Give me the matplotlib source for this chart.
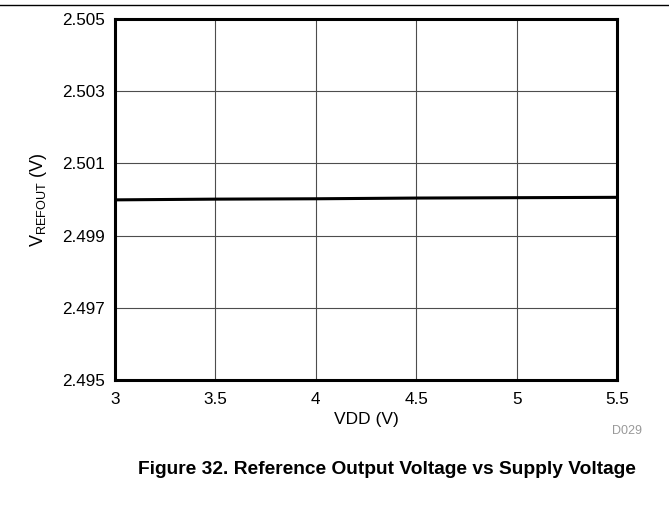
import numpy as np
import matplotlib.pyplot as plt
from matplotlib.lines import Line2D

plt.rcParams['font.family'] = ['Liberation Sans', 'DejaVu Sans']
plt.rcParams['mathtext.fontset'] = 'custom'
plt.rcParams['mathtext.rm'] = 'Liberation Sans'

vdd = [3.0, 3.5, 4.0, 4.5, 5.0, 5.5]
vrefout = [2.49999, 2.50001, 2.50002, 2.50004, 2.50005, 2.50006]
yticks = [2.495, 2.497, 2.499, 2.501, 2.503, 2.505]
xticks = [3, 3.5, 4, 4.5, 5, 5.5]

fig = plt.figure(figsize=(6.69, 5.14), dpi=100)
ax = fig.add_axes([115/669, 1 - 380/514, 502/669, 361/514])

ax.plot(vdd, vrefout, color='black', linewidth=2.2)
ax.set_xlim(3, 5.5)
ax.set_ylim(2.495, 2.505)
ax.set_xticks(xticks)
ax.set_xticklabels(['3', '3.5', '4', '4.5', '5', '5.5'])
ax.set_yticks(yticks)
ax.set_yticklabels(['%.3f' % v for v in yticks])
ax.tick_params(length=0, labelsize=12.3)
ax.tick_params(axis='x', pad=9)
ax.tick_params(axis='y', pad=7)
ax.grid(True, color='#4d4d4d', linewidth=0.8)
for s in ax.spines.values():
    s.set_linewidth(2.2)
ax.set_xlabel('VDD (V)', fontsize=12.5, labelpad=3)
ax.set_ylabel(r'V$_{\mathrm{REFOUT}}$ (V)', fontsize=13, labelpad=10)

fig.add_artist(Line2D([0, 1], [1 - 5/514, 1 - 5/514], color='black', linewidth=1, transform=fig.transFigure))
fig.text(627/669, 1 - 431/514, 'D029', color='#999999', fontsize=9, ha='center', va='center')
fig.text(636/669, 1 - 470/514, 'Figure 32. Reference Output Voltage vs Supply Voltage',
         fontsize=13.8, fontweight='bold', ha='right', va='center')

fig.savefig('out.png', dpi=100)
